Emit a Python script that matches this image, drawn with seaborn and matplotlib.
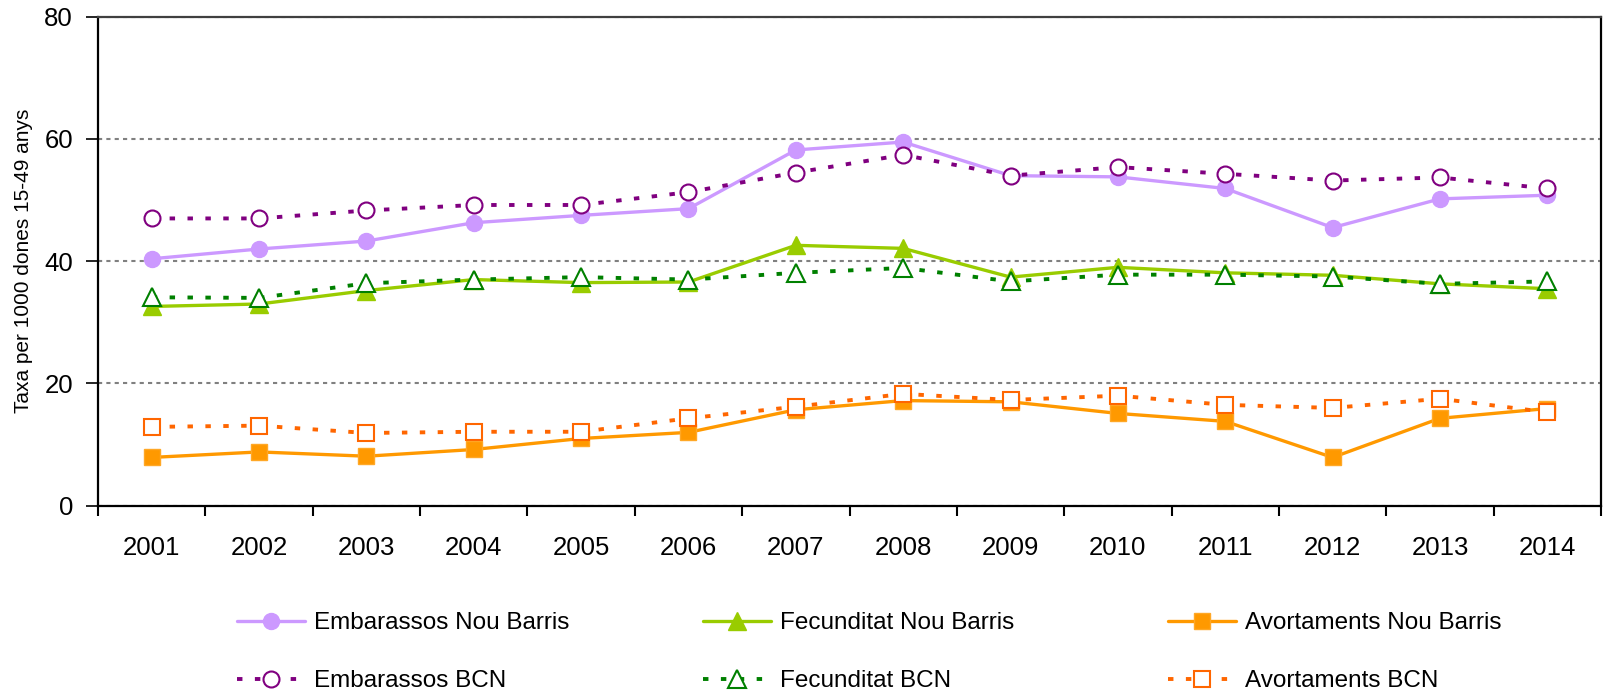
import numpy as np
import pandas as pd
import matplotlib
matplotlib.use("Agg")
import matplotlib.pyplot as plt
import seaborn as sns
from matplotlib.ticker import FixedLocator

# ---- data ----
years = [2001, 2002, 2003, 2004, 2005, 2006, 2007, 2008, 2009, 2010, 2011, 2012, 2013, 2014]
emb_nb = [40.4, 42.0, 43.3, 46.3, 47.5, 48.6, 58.2, 59.5, 54.0, 53.8, 51.9, 45.5, 50.2, 50.8]
emb_bcn = [47.0, 47.0, 48.3, 49.2, 49.2, 51.3, 54.5, 57.4, 54.0, 55.4, 54.3, 53.2, 53.7, 51.9]
fec_nb = [32.6, 33.0, 35.2, 37.0, 36.5, 36.6, 42.6, 42.1, 37.4, 39.0, 38.1, 37.7, 36.3, 35.5]
fec_bcn = [34.1, 34.0, 36.4, 37.0, 37.4, 37.0, 38.1, 38.9, 36.7, 37.8, 37.8, 37.5, 36.3, 36.7]
av_nb = [7.9, 8.8, 8.1, 9.2, 11.0, 12.0, 15.7, 17.2, 17.0, 15.1, 13.8, 7.9, 14.3, 15.9]
av_bcn = [12.9, 13.1, 11.9, 12.1, 12.1, 14.3, 16.2, 18.3, 17.3, 18.0, 16.5, 16.0, 17.5, 15.3]

labels_nb = ['Embarassos Nou Barris', 'Fecunditat Nou Barris', 'Avortaments Nou Barris']
labels_bcn = ['Embarassos BCN', 'Fecunditat BCN', 'Avortaments BCN']
ylab = 'Taxa per 1000 dones 15-49 anys'

sns.set_theme(style="ticks")
plt.rcParams['font.family'] = ['Liberation Sans', 'DejaVu Sans']

fig = plt.figure(figsize=(16.1, 6.94), dpi=100)
ax = fig.add_axes([0.0609, 0.2713, 0.9335, 0.7046])

dots = (0, (1.4, 3.2))
# solid Nou Barris series
styles_nb = [
    dict(color='#CC99FF', marker='o', markersize=11.5, markerfacecolor='#CC99FF', markeredgecolor='#CC99FF'),
    dict(color='#99CC00', marker='^', markersize=12.5, markerfacecolor='#99CC00', markeredgecolor='#99CC00'),
    dict(color='#FF9900', marker='s', markersize=11, markerfacecolor='#FF9900', markeredgecolor='#FFA826'),
]
# dotted Barcelona series, open markers
styles_bcn = [
    dict(color='#800080', marker='o', markersize=11.5, markerfacecolor='white', markeredgecolor='#800080'),
    dict(color='#008000', marker='^', markersize=12.5, markerfacecolor='white', markeredgecolor='#008000'),
    dict(color='#FF6600', marker='s', markersize=11, markerfacecolor='white', markeredgecolor='#FF6600'),
]

handles = {}
for vals, lab, st in zip([emb_nb, fec_nb, av_nb], labels_nb, styles_nb):
    sns.lineplot(x=years, y=vals, ax=ax, linewidth=2.4, linestyle='-',
                 markeredgewidth=1.0, label=lab, legend=False, zorder=3, **st)
for vals, lab, st in zip([emb_bcn, fec_bcn, av_bcn], labels_bcn, styles_bcn):
    sns.lineplot(x=years, y=vals, ax=ax, linewidth=2.8, linestyle=dots,
                 markeredgewidth=1.5, label=lab, legend=False, zorder=4, **st)

for line in ax.get_lines():
    handles[line.get_label()] = line

ax.set_xlim(2000.5, 2014.5)
ax.set_ylim(0, 80)
ax.set_yticks([0, 20, 40, 60, 80])
ax.set_xticks(years)
ax.xaxis.set_minor_locator(FixedLocator(np.arange(2000.5, 2015, 1.0)))
ax.tick_params(axis='x', which='major', length=0, pad=22, labelsize=18.5)
ax.tick_params(axis='x', which='minor', length=7, width=1.5, color='black', direction='out')
ax.tick_params(axis='y', length=9, width=1.2, color='black', pad=9, labelsize=18.5, direction='out')
for lab in ax.get_xticklabels() + ax.get_yticklabels():
    lab.set_color('black')

ax.yaxis.grid(True, color='#808080', linestyle=(0, (2, 2)), linewidth=1.5)
ax.set_axisbelow(True)
ax.set_xlabel('')
ax.set_ylabel(ylab, fontsize=15, color='black')
ax.yaxis.set_label_coords(-0.0432, 0.5)

for side in ['left', 'bottom', 'right']:
    ax.spines[side].set_color('black')
    ax.spines[side].set_linewidth(1.6)
ax.spines['top'].set_color('#404040')
ax.spines['top'].set_linewidth(1.6)

# legend: three columns, Nou Barris on top row, BCN below
col_x = [237 / 1610, 703 / 1610, 1168 / 1610]
for i in range(3):
    hs = [handles[labels_nb[i]], handles[labels_bcn[i]]]
    leg = fig.legend(hs, [labels_nb[i], labels_bcn[i]], loc='upper left',
                     bbox_to_anchor=(col_x[i], 1 - 612 / 694), frameon=False,
                     fontsize=17.5, handlelength=2.8, handletextpad=0.35,
                     labelspacing=1.5, borderpad=0, borderaxespad=0)
    for t in leg.get_texts():
        t.set_color('black')

fig.savefig('out.png', dpi=100, facecolor='white')
